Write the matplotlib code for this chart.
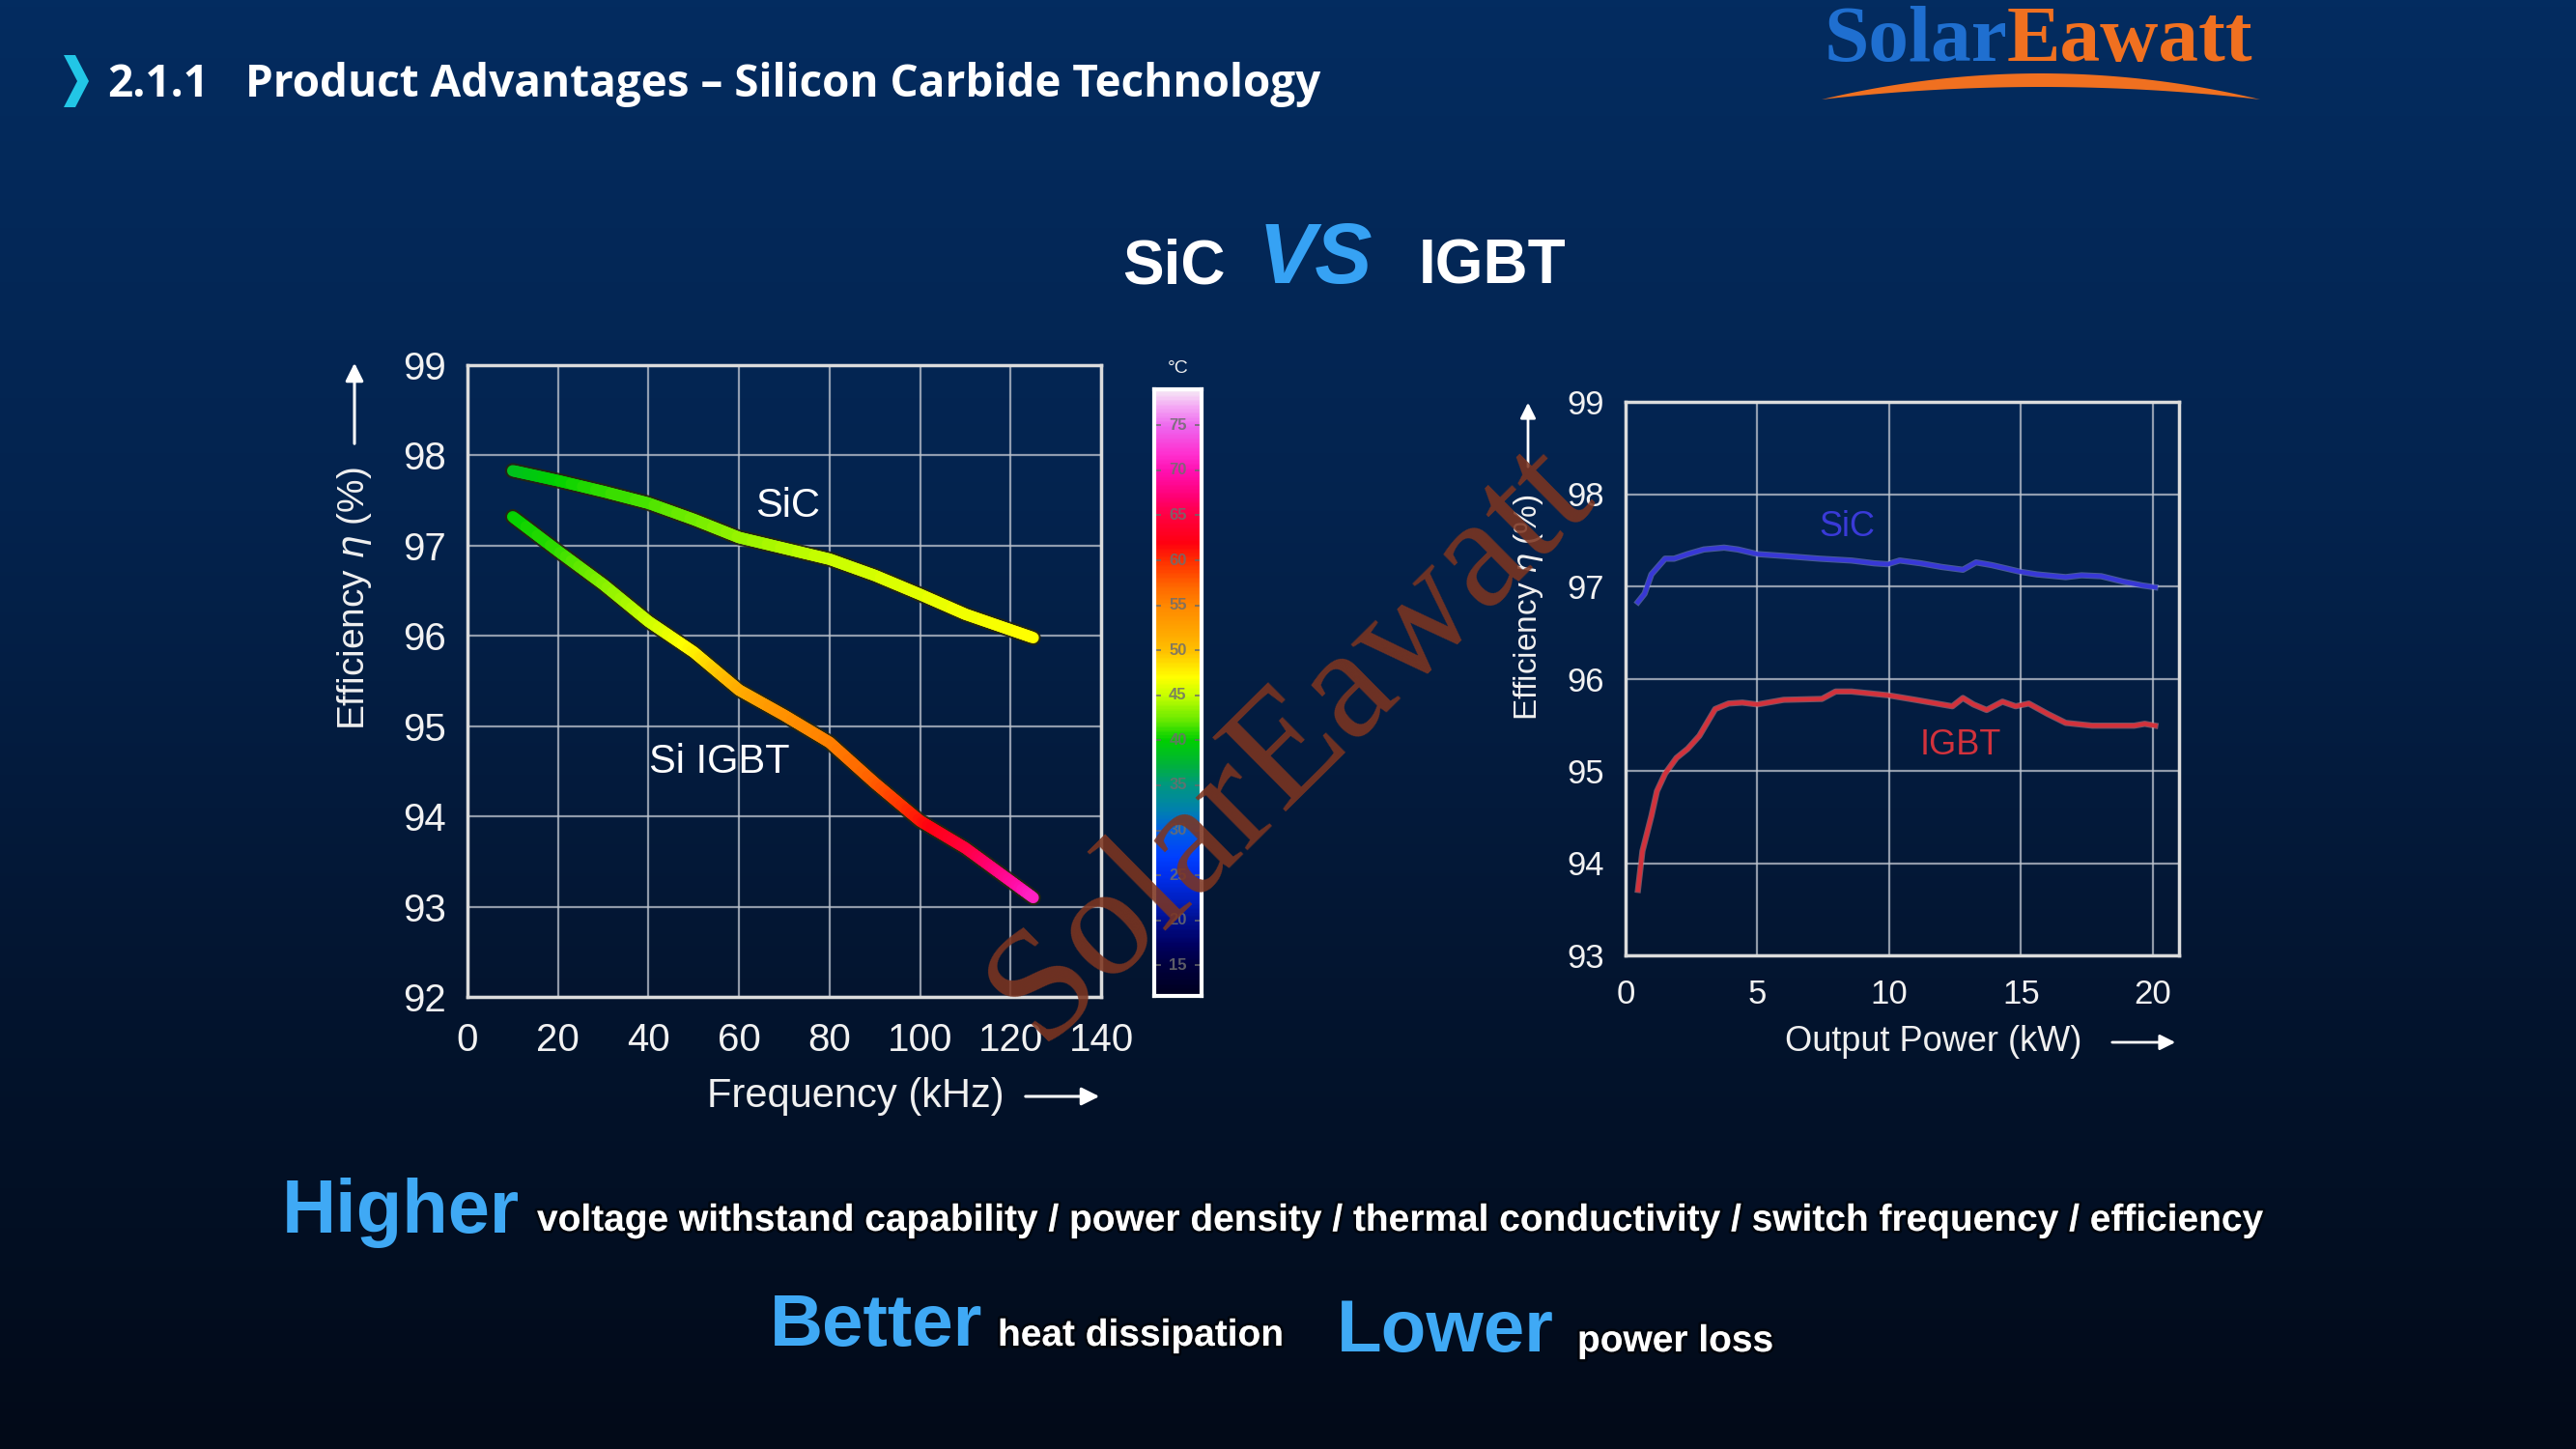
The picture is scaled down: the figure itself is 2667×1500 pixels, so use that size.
import numpy as np
import matplotlib
matplotlib.use("Agg")
import matplotlib.pyplot as plt
from matplotlib.collections import LineCollection
from matplotlib.colors import LinearSegmentedColormap, Normalize
from matplotlib.patches import Polygon
import matplotlib.patheffects as pe

W, H = 2667, 1500

# ---------------- data ----------------
freq_khz = [10, 20, 30, 40, 50, 60, 70, 80, 90, 100, 110, 125]
sic_eff_freq = [97.83, 97.72, 97.60, 97.47, 97.29, 97.09, 96.97, 96.85, 96.67, 96.46, 96.24, 95.98]
sic_temp_c = [38.5, 40.0, 41.0, 41.5, 42.5, 43.5, 44.3, 45.0, 45.5, 46.0, 46.5, 47.0]
igbt_eff_freq = [97.32, 96.94, 96.57, 96.16, 95.82, 95.40, 95.12, 94.82, 94.37, 93.95, 93.65, 93.10]
igbt_temp_c = [40.0, 41.0, 43.0, 45.0, 47.5, 51.5, 54.0, 55.5, 57.5, 61.0, 64.5, 71.0]

power_kw_sic = [0.47, 0.72, 0.98, 1.5, 1.84, 2.36, 2.97, 3.74, 4.26, 5.0, 6.0, 7.36, 8.57, 9.43,
                9.95, 10.4, 11.2, 12.0, 12.8, 13.3, 13.9, 14.95, 15.6, 16.7, 17.3, 18.05, 18.9, 19.6, 20.1]
sic_eff_power = [96.83, 96.92, 97.13, 97.30, 97.30, 97.35, 97.40, 97.42, 97.40, 97.35, 97.33, 97.30,
                 97.28, 97.25, 97.24, 97.28, 97.25, 97.21, 97.18, 97.26, 97.23, 97.16, 97.13, 97.10,
                 97.12, 97.11, 97.05, 97.01, 96.99]
power_kw_igbt = [0.47, 0.64, 0.98, 1.19, 1.5, 1.93, 2.36, 2.8, 3.4, 3.91, 4.43, 5.0, 6.0, 7.45, 7.97,
                 8.57, 9.95, 11.0, 12.4, 12.8, 13.2, 13.7, 14.3, 14.8, 15.3, 16.0, 16.7, 17.7, 19.3,
                 19.7, 20.1]
igbt_eff_power = [93.71, 94.13, 94.51, 94.78, 94.97, 95.14, 95.24, 95.38, 95.67, 95.73, 95.74, 95.72,
                  95.77, 95.78, 95.86, 95.86, 95.82, 95.77, 95.70, 95.79, 95.72, 95.66, 95.75, 95.70,
                  95.73, 95.62, 95.52, 95.49, 95.49, 95.51, 95.49]

freq_ticks = [0, 20, 40, 60, 80, 100, 120, 140]
eff_ticks_left = [92, 93, 94, 95, 96, 97, 98, 99]
power_ticks = [0, 5, 10, 15, 20]
eff_ticks_right = [93, 94, 95, 96, 97, 98, 99]
cbar_ticks = [15, 20, 25, 30, 35, 40, 45, 50, 55, 60, 65, 70, 75]
cbar_range = [11.6, 79.0]

thermal_stops_c = [11.6, 15, 17, 20, 22, 25, 27, 30, 32, 35, 37, 40, 42, 45, 47, 50, 52, 55, 57,
                   60, 62, 65, 67, 70, 72, 75, 77, 79.0]
thermal_colors = ["#000020", "#000040", "#000060", "#001090", "#0020c0", "#0030f0", "#0040ff",
                  "#0060e0", "#0080b0", "#009880", "#00b040", "#00d000", "#60e800", "#c8ff00",
                  "#ffff00", "#ffc000", "#ffa800", "#ff8800", "#ff6a00", "#ff3000", "#ff0010",
                  "#ff0040", "#ff0070", "#ff10b0", "#ff30d0", "#ee66ee", "#f4a0f4", "#f6e6f6"]

# ---------------- helpers ----------------
def fx(x):
    return x / W

def fy(y):
    return 1 - y / H

lo, hi = thermal_stops_c[0], thermal_stops_c[-1]
thermal = LinearSegmentedColormap.from_list(
    "thermal", [((t - lo) / (hi - lo), c) for t, c in zip(thermal_stops_c, thermal_colors)])
tnorm = Normalize(lo, hi)

plt.rcParams["font.family"] = ["Liberation Sans", "DejaVu Sans"]
plt.rcParams["mathtext.fontset"] = "dejavusans"

fig = plt.figure(figsize=(W / 100, H / 100), dpi=100)

# ---------------- background ----------------
bg = fig.add_axes([0, 0, 1, 1], zorder=-10)
bg.set_xlim(0, W)
bg.set_ylim(H, 0)
bg.axis("off")
bgcmap = LinearSegmentedColormap.from_list(
    "bg", [(0, "#032c60"), (0.35, "#04234e"), (0.7, "#03142e"), (1.0, "#020a18")])
bg.imshow(np.linspace(0, 1, 400).reshape(-1, 1), cmap=bgcmap, extent=[0, W, H, 0],
          aspect="auto", zorder=0)

# chevron
bg.add_patch(Polygon([(66, 57), (78, 57), (92, 84), (78, 111), (66, 111), (80, 84)],
                     closed=True, facecolor="#22c6e6", edgecolor="none", zorder=2))

# header
bg.text(111, 100, "2.1.1", fontsize=33, fontweight="bold", family="Open Sans",
        color="white", ha="left", va="baseline", zorder=3)
bg.text(254, 100, "Product Advantages \u2013 Silicon Carbide Technology", fontsize=33,
        fontweight="bold", family="Open Sans", color="white", ha="left", va="baseline", zorder=3)

# logo
bg.text(2078, 63, "Solar", fontsize=60, fontweight="bold", family="Liberation Serif",
        color="#1f6fd0", ha="right", va="baseline", zorder=3)
bg.text(2078, 63, "Eawatt", fontsize=60, fontweight="bold", family="Liberation Serif",
        color="#f07020", ha="left", va="baseline", zorder=3)
xs = np.linspace(1886, 2340, 120)
u = (xs - 2113) / 227.0
top = 76 + 27 * u ** 2
bot = 90 + 13 * u ** 2
bg.add_patch(Polygon(np.column_stack([np.r_[xs, xs[::-1]], np.r_[top, bot[::-1]]]),
                     closed=True, facecolor="#f07020", edgecolor="none", zorder=3))

# title
bg.text(1215, 293, "SiC", fontsize=46, fontweight="bold", color="white",
        ha="center", va="baseline", zorder=3)
bg.text(1362, 293, "VS", fontsize=64, fontweight="bold", style="italic", color="#36a2f4",
        ha="center", va="baseline", zorder=3)
bg.text(1545, 293, "IGBT", fontsize=46, fontweight="bold", color="white",
        ha="center", va="baseline", zorder=3)

# ---------------- left chart ----------------
ax1 = fig.add_axes([fx(484), fy(1032), (1140 - 484) / W, (1032 - 378) / H])
ax1.set_facecolor("none")
ax1.set_xlim(0, 140)
ax1.set_ylim(92, 99)
ax1.set_xticks(freq_ticks)
ax1.set_yticks(eff_ticks_left)
ax1.grid(True, color="#c0c6d0", lw=1.6, alpha=0.75)
for s in ax1.spines.values():
    s.set_color("#dcdcdc")
    s.set_linewidth(2.5)
ax1.tick_params(axis="both", length=0, labelsize=29, colors="#f2f2f2")
ax1.tick_params(axis="x", pad=19)
ax1.tick_params(axis="y", pad=16)


def gradient_line(ax, x, y, t, lw):
    segs, cols = [], []
    for i in range(len(x) - 1):
        n = 24
        for k in range(n):
            a, b = k / n, (k + 1) / n
            p0 = (x[i] + (x[i + 1] - x[i]) * a, y[i] + (y[i + 1] - y[i]) * a)
            p1 = (x[i] + (x[i + 1] - x[i]) * b, y[i] + (y[i + 1] - y[i]) * b)
            segs.append([p0, p1])
            cols.append(t[i] + (t[i + 1] - t[i]) * (a + b) / 2)
    ax.plot(x, y, color="#26260f", lw=lw + 3.0, solid_capstyle="round",
            solid_joinstyle="round", alpha=0.9, zorder=3)
    lc = LineCollection(segs, cmap=thermal, norm=tnorm, linewidths=lw, capstyle="round",
                        zorder=4)
    lc.set_array(np.array(cols))
    ax.add_collection(lc)


gradient_line(ax1, freq_khz, sic_eff_freq, sic_temp_c, 8.5)
gradient_line(ax1, freq_khz, igbt_eff_freq, igbt_temp_c, 8.5)
ax1.text(70.7, 97.44, "SiC", fontsize=30, color="white", ha="center", va="center", zorder=5)
ax1.text(55.7, 94.60, "Si IGBT", fontsize=30, color="white", ha="center", va="center", zorder=5)

# axis labels with arrows
fig.text(fx(367), fy(620), "Efficiency $\\eta$ (%)", rotation=90, fontsize=28,
         color="#f0f0f0", ha="center", va="center")
bg.annotate("", xy=(367, 373), xytext=(367, 462),
            arrowprops=dict(arrowstyle="-|>", color="white", lw=2.2, mutation_scale=28))
fig.text(fx(886), fy(1135), "Frequency (kHz)", fontsize=30, color="#f0f0f0",
         ha="center", va="center")
bg.annotate("", xy=(1141, 1135), xytext=(1059, 1135),
            arrowprops=dict(arrowstyle="-|>", color="white", lw=2.2, mutation_scale=28))

# ---------------- colour bar ----------------
cax = fig.add_axes([fx(1195), fy(1031), 49 / W, (1031 - 403) / H])
cax.imshow(np.linspace(cbar_range[0], cbar_range[1], 400).reshape(-1, 1), cmap=thermal,
           norm=tnorm, extent=[0, 1, cbar_range[0], cbar_range[1]], origin="lower",
           aspect="auto")
cax.set_xlim(0, 1)
cax.set_ylim(cbar_range[0], cbar_range[1])
cax.set_xticks([])
cax.set_yticks([])
for s in cax.spines.values():
    s.set_color("white")
    s.set_linewidth(3)
for t in cbar_ticks:
    cax.text(0.5, t, str(t), fontsize=12, color="#6e6e6e", alpha=0.85, ha="center",
             va="center", fontweight="bold")
    cax.plot([0.04, 0.12], [t, t], color="#6a6a6a", lw=1.4, alpha=0.8)
    cax.plot([0.88, 0.96], [t, t], color="#6a6a6a", lw=1.4, alpha=0.8)
fig.text(fx(1220), fy(382), "\u00b0C", fontsize=14, color="#f0f0f0", ha="center", va="center")

# ---------------- right chart ----------------
ax2 = fig.add_axes([fx(1683), fy(989), (2256 - 1683) / W, (989 - 416) / H])
ax2.set_facecolor("none")
ax2.set_xlim(0, 21)
ax2.set_ylim(93, 99)
ax2.set_xticks(power_ticks)
ax2.set_yticks(eff_ticks_right)
ax2.grid(True, color="#c0c6d0", lw=1.6, alpha=0.75)
for s in ax2.spines.values():
    s.set_color("#dcdcdc")
    s.set_linewidth(2.5)
ax2.tick_params(axis="both", length=0, labelsize=25, colors="#f2f2f2")
ax2.tick_params(axis="x", pad=17)
ax2.tick_params(axis="y", pad=16)
ax2.plot(power_kw_sic, sic_eff_power, color="#3838d6", lw=3.2, solid_joinstyle="round",
         path_effects=[pe.Stroke(linewidth=4.6, foreground="#8f9ae0", alpha=0.5), pe.Normal()])
ax2.plot(power_kw_igbt, igbt_eff_power, color="#d2323c", lw=3.2, solid_joinstyle="round",
         path_effects=[pe.Stroke(linewidth=4.6, foreground="#e09090", alpha=0.5), pe.Normal()])
ax2.text(8.4, 97.64, "SiC", fontsize=26, color="#3a3ad8", ha="center", va="center")
ax2.text(12.7, 95.28, "IGBT", fontsize=26, color="#d2323c", ha="center", va="center")

fig.text(fx(1582), fy(629), "Efficiency $\\eta$ (%)", rotation=90, fontsize=24,
         color="#f0f0f0", ha="center", va="center")
bg.annotate("", xy=(1582, 414), xytext=(1582, 486),
            arrowprops=dict(arrowstyle="-|>", color="white", lw=2.0, mutation_scale=24))
fig.text(fx(2002), fy(1079), "Output Power (kW)", fontsize=26, color="#f0f0f0",
         ha="center", va="center")
bg.annotate("", xy=(2255, 1079), xytext=(2184, 1079),
            arrowprops=dict(arrowstyle="-|>", color="white", lw=2.0, mutation_scale=24))

# ---------------- bottom text ----------------
blue = "#3fa9f5"
glow = [pe.withStroke(linewidth=4, foreground="#00000088")]
fig.text(fx(292), fy(1276), "Higher", fontsize=56, fontweight="bold", color=blue,
         ha="left", va="baseline")
fig.text(fx(556), fy(1274),
         "voltage withstand capability / power density / thermal conductivity / switch frequency / efficiency",
         fontsize=28, fontweight="bold", color="white", ha="left", va="baseline", path_effects=glow)
fig.text(fx(797), fy(1393), "Better", fontsize=55, fontweight="bold", color=blue,
         ha="left", va="baseline")
fig.text(fx(1033), fy(1393), "heat dissipation", fontsize=28, fontweight="bold", color="white",
         ha="left", va="baseline", path_effects=glow)
fig.text(fx(1384), fy(1399), "Lower", fontsize=55, fontweight="bold", color=blue,
         ha="left", va="baseline")
fig.text(fx(1633), fy(1399), "power loss", fontsize=28, fontweight="bold", color="white",
         ha="left", va="baseline", path_effects=glow)

# ---------------- watermark ----------------
fig.text(fx(1336), fy(768), "SolarEawatt", fontsize=119, family="Liberation Serif",
         color="#7d3520", alpha=0.88, rotation=44.7, ha="center", va="center",
         rotation_mode="anchor", zorder=10)

fig.savefig("out.png", dpi=100)
